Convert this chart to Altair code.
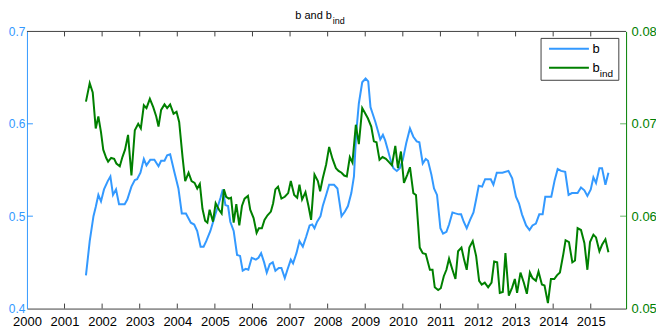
import altair as alt
import pandas as pd

# ---- data ----
b_year = [2001.57, 2001.67, 2001.77, 2001.83, 2001.90, 2001.97, 2002.05, 2002.15, 2002.22, 2002.29,
          2002.37, 2002.45, 2002.60, 2002.67, 2002.78, 2002.87, 2002.93, 2003.02, 2003.11, 2003.18,
          2003.28, 2003.39, 2003.50, 2003.57, 2003.66, 2003.73, 2003.81, 2003.92, 2004.03, 2004.12,
          2004.23, 2004.36, 2004.45, 2004.53, 2004.62, 2004.70, 2004.77, 2004.88, 2005.02, 2005.15,
          2005.21, 2005.28, 2005.35, 2005.41, 2005.50, 2005.59, 2005.67, 2005.74, 2005.82, 2005.89,
          2005.98, 2006.09, 2006.16, 2006.23, 2006.31, 2006.38, 2006.46, 2006.54, 2006.61, 2006.70,
          2006.77, 2006.86, 2006.93, 2007.02, 2007.08, 2007.17, 2007.25, 2007.34, 2007.43, 2007.52,
          2007.59, 2007.65, 2007.72, 2007.81, 2007.87, 2007.96, 2008.04, 2008.17, 2008.26, 2008.37,
          2008.46, 2008.54, 2008.63, 2008.70, 2008.76, 2008.83, 2008.92, 2009.01, 2009.08, 2009.14,
          2009.18, 2009.27, 2009.34, 2009.40, 2009.47, 2009.53, 2009.60, 2009.68, 2009.75, 2009.84,
          2009.92, 2010.00, 2010.09, 2010.19, 2010.28, 2010.37, 2010.44, 2010.53, 2010.61, 2010.67,
          2010.76, 2010.83, 2010.91, 2011.00, 2011.07, 2011.16, 2011.23, 2011.32, 2011.40, 2011.49,
          2011.55, 2011.62, 2011.70, 2011.79, 2011.88, 2011.95, 2012.02, 2012.11, 2012.19, 2012.34,
          2012.41, 2012.50, 2012.65, 2012.81, 2012.91, 2013.01, 2013.09, 2013.17, 2013.28, 2013.37,
          2013.45, 2013.54, 2013.63, 2013.72, 2013.79, 2013.88, 2013.95, 2014.04, 2014.12, 2014.21,
          2014.32, 2014.41, 2014.50, 2014.65, 2014.74, 2014.83, 2014.91, 2015.00, 2015.07, 2015.14,
          2015.23, 2015.30, 2015.39, 2015.47]
b_val = [0.436, 0.473, 0.500, 0.510, 0.523, 0.516, 0.529, 0.538, 0.543, 0.523,
         0.529, 0.513, 0.513, 0.518, 0.532, 0.539, 0.540, 0.547, 0.562, 0.555,
         0.561, 0.561, 0.554, 0.560, 0.560, 0.566, 0.567, 0.548, 0.530, 0.503,
         0.503, 0.493, 0.491, 0.484, 0.467, 0.467, 0.473, 0.484, 0.503, 0.520,
         0.529, 0.512, 0.511, 0.494, 0.484, 0.458, 0.457, 0.441, 0.443, 0.442,
         0.455, 0.453, 0.455, 0.460, 0.450, 0.439, 0.448, 0.450, 0.441, 0.444,
         0.444, 0.433, 0.442, 0.453, 0.449, 0.460, 0.473, 0.467, 0.478, 0.490,
         0.491, 0.487, 0.494, 0.500, 0.511, 0.523, 0.534, 0.534, 0.530, 0.500,
         0.505, 0.511, 0.525, 0.543, 0.590, 0.622, 0.645, 0.649, 0.646, 0.618,
         0.613, 0.602, 0.592, 0.583, 0.588, 0.582, 0.572, 0.560, 0.552, 0.549,
         0.552, 0.561, 0.579, 0.595, 0.586, 0.581, 0.580, 0.557, 0.562, 0.560,
         0.545, 0.530, 0.523, 0.487, 0.481, 0.483, 0.491, 0.504, 0.503, 0.502,
         0.502, 0.494, 0.487, 0.496, 0.504, 0.518, 0.533, 0.532, 0.540, 0.540,
         0.534, 0.547, 0.547, 0.549, 0.541, 0.521, 0.514, 0.502, 0.490, 0.485,
         0.490, 0.492, 0.502, 0.502, 0.521, 0.521, 0.521, 0.539, 0.551, 0.549,
         0.548, 0.523, 0.525, 0.525, 0.531, 0.528, 0.522, 0.529, 0.542, 0.536,
         0.552, 0.552, 0.534, 0.547]

bind_year = [2001.57, 2001.67, 2001.75, 2001.83, 2001.90, 2001.97, 2002.03, 2002.11, 2002.16, 2002.24,
             2002.32, 2002.38, 2002.47, 2002.54, 2002.61, 2002.69, 2002.78, 2002.87, 2002.96, 2003.03,
             2003.11, 2003.18, 2003.27, 2003.36, 2003.44, 2003.50, 2003.57, 2003.66, 2003.73, 2003.81,
             2003.90, 2003.98, 2004.05, 2004.14, 2004.21, 2004.30, 2004.38, 2004.46, 2004.53, 2004.60,
             2004.67, 2004.74, 2004.80, 2004.86, 2004.95, 2005.02, 2005.11, 2005.18, 2005.24, 2005.30,
             2005.37, 2005.43, 2005.50, 2005.57, 2005.65, 2005.72, 2005.79, 2005.88, 2005.94, 2006.03,
             2006.11, 2006.17, 2006.25, 2006.32, 2006.40, 2006.49, 2006.55, 2006.61, 2006.68, 2006.77,
             2006.86, 2006.95, 2007.02, 2007.11, 2007.19, 2007.25, 2007.32, 2007.41, 2007.49, 2007.56,
             2007.65, 2007.74, 2007.80, 2007.87, 2007.96, 2008.04, 2008.13, 2008.22, 2008.29, 2008.37,
             2008.44, 2008.51, 2008.59, 2008.66, 2008.75, 2008.83, 2008.92, 2008.99, 2009.07, 2009.16,
             2009.23, 2009.30, 2009.38, 2009.46, 2009.55, 2009.62, 2009.71, 2009.80, 2009.87, 2009.95,
             2010.03, 2010.12, 2010.19, 2010.28, 2010.35, 2010.41, 2010.45, 2010.53, 2010.61, 2010.72,
             2010.79, 2010.85, 2010.94, 2011.01, 2011.09, 2011.16, 2011.23, 2011.32, 2011.40, 2011.47,
             2011.56, 2011.63, 2011.70, 2011.77, 2011.86, 2011.95, 2012.03, 2012.10, 2012.18, 2012.27,
             2012.36, 2012.43, 2012.51, 2012.58, 2012.66, 2012.73, 2012.82, 2012.91, 2012.98, 2013.04,
             2013.13, 2013.22, 2013.30, 2013.38, 2013.45, 2013.54, 2013.61, 2013.70, 2013.77, 2013.86,
             2013.94, 2014.03, 2014.10, 2014.18, 2014.27, 2014.33, 2014.42, 2014.51, 2014.58, 2014.65,
             2014.74, 2014.83, 2014.91, 2014.98, 2015.07, 2015.14, 2015.23, 2015.30, 2015.39, 2015.47]
bind_val = [0.0724, 0.0744, 0.0734, 0.0695, 0.0708, 0.0691, 0.0672, 0.0663, 0.0659, 0.0663,
            0.0662, 0.0657, 0.0654, 0.0664, 0.0672, 0.0688, 0.0644, 0.0693, 0.0700, 0.0695,
            0.0720, 0.0717, 0.0727, 0.0718, 0.0708, 0.0697, 0.0715, 0.0721, 0.0717, 0.0721,
            0.0711, 0.0713, 0.0702, 0.0664, 0.0638, 0.0647, 0.0638, 0.0636, 0.0630, 0.0635,
            0.0608, 0.0595, 0.0593, 0.0607, 0.0594, 0.0614, 0.0607, 0.0603, 0.0629, 0.0621,
            0.0619, 0.0620, 0.0593, 0.0613, 0.0590, 0.0611, 0.0619, 0.0622, 0.0607, 0.0598,
            0.0582, 0.0587, 0.0587, 0.0596, 0.0601, 0.0605, 0.0614, 0.0629, 0.0632, 0.0619,
            0.0621, 0.0625, 0.0638, 0.0623, 0.0620, 0.0634, 0.0618, 0.0626, 0.0611, 0.0596,
            0.0645, 0.0638, 0.0627, 0.0641, 0.0656, 0.0675, 0.0662, 0.0652, 0.0649, 0.0647,
            0.0644, 0.0643, 0.0664, 0.0658, 0.0699, 0.0678, 0.0717, 0.0712, 0.0706, 0.0697,
            0.0681, 0.0680, 0.0661, 0.0664, 0.0662, 0.0659, 0.0655, 0.0676, 0.0652, 0.0670,
            0.0636, 0.0645, 0.0653, 0.0625, 0.0623, 0.0589, 0.0566, 0.0560, 0.0559, 0.0542,
            0.0542, 0.0523, 0.0520, 0.0522, 0.0535, 0.0542, 0.0554, 0.0542, 0.0532, 0.0562,
            0.0566, 0.0553, 0.0542, 0.0566, 0.0573, 0.0557, 0.0530, 0.0526, 0.0528, 0.0523,
            0.0528, 0.0551, 0.0550, 0.0517, 0.0518, 0.0560, 0.0514, 0.0523, 0.0532, 0.0517,
            0.0539, 0.0528, 0.0516, 0.0539, 0.0533, 0.0530, 0.0540, 0.0526, 0.0525, 0.0506,
            0.0532, 0.0532, 0.0536, 0.0539, 0.0559, 0.0574, 0.0572, 0.0550, 0.0552, 0.0587,
            0.0585, 0.0571, 0.0542, 0.0572, 0.0580, 0.0577, 0.0562, 0.0569, 0.0575, 0.0561]

x_labels = list(range(2000, 2016))
x_ticks = list(range(2001, 2016))
left_labels = [0.4, 0.5, 0.6, 0.7]
left_ticks = [0.5, 0.6]
right_labels = [0.05, 0.06, 0.07, 0.08]
right_ticks = [0.06, 0.07]
title_main, title_sub = "b and b", "ind"
legend_b, legend_bind, legend_sub = "b", "b", "ind"

# ---- style ----
LEFT = 27           # page x of plot's left edge
W, H = 601, 278
BLUE = "#3399ff"
GREEN = "#008000"
DARK = "#404040"
FONT = "Liberation Sans"
TL = 5  # tick length
OX = 22.7 - LEFT    # shift for overlay items placed relative to the original frame

df_b = pd.DataFrame({"year": b_year, "b": b_val})
df_bi = pd.DataFrame({"year": bind_year, "bind": bind_val})
one = pd.DataFrame({"k": [0]})  # single row for decorations

xscale = alt.Scale(domain=[2000, 2015.94], nice=False, zero=False)
x_axis = alt.Axis(values=x_labels, format="d", ticks=False, grid=False, domainColor=DARK,
                  labelFont=FONT, labelFontSize=13, labelColor="black", labelPadding=7,
                  labelFlush=False, labelOverlap=False, title=None)
yl_scale = alt.Scale(domain=[0.4, 0.7], nice=False, zero=False)
yl_axis = alt.Axis(values=left_labels, format=".1f", ticks=False, grid=False, domainColor=BLUE,
                   labelFont=FONT, labelFontSize=12, labelColor=BLUE, labelPadding=2,
                   labelFlush=False, labelOverlap=False, title=None, orient="left")
yr_scale = alt.Scale(domain=[0.05, 0.08], nice=False, zero=False)
yr_axis = alt.Axis(values=right_labels, format=".2f", ticks=False, grid=False, domainColor=GREEN,
                   labelFont=FONT, labelFontSize=13, labelColor=GREEN, labelPadding=5,
                   labelFlush=False, labelOverlap=False, title=None, orient="right")

X = alt.X("year:Q", scale=xscale, axis=x_axis)

blue_line = alt.Chart(df_b).mark_line(color=BLUE, strokeWidth=2).encode(
    x=X, y=alt.Y("b:Q", scale=yl_scale, axis=yl_axis))
left_tick_rules = alt.Chart(pd.DataFrame({"b": left_ticks})).mark_rule(color=BLUE, strokeWidth=1).encode(
    y=alt.Y("b:Q", scale=yl_scale, axis=yl_axis), x=alt.value(0), x2=alt.value(TL + 1))
blue_group = alt.layer(blue_line, left_tick_rules)

green_line = alt.Chart(df_bi).mark_line(color=GREEN, strokeWidth=2).encode(
    x=X, y=alt.Y("bind:Q", scale=yr_scale, axis=yr_axis))
right_tick_rules = alt.Chart(pd.DataFrame({"bind": right_ticks})).mark_rule(color="#66b366", strokeWidth=1).encode(
    y=alt.Y("bind:Q", scale=yr_scale, axis=yr_axis), x=alt.value(W - TL - 1), x2=alt.value(W))
green_group = alt.layer(green_line, right_tick_rules)

df_xt = pd.DataFrame({"year": x_ticks})
top_ticks = alt.Chart(df_xt).mark_rule(color=DARK).encode(x=X, y=alt.value(0), y2=alt.value(TL))
bottom_ticks = alt.Chart(df_xt).mark_rule(color=DARK).encode(x=X, y=alt.value(H - TL), y2=alt.value(H))
top_border = alt.Chart(one).mark_rule(color=DARK).encode(x=alt.value(0), x2=alt.value(W), y=alt.value(0))

# legend
leg_box = alt.Chart(one).mark_rect(fill="white", stroke=DARK, strokeWidth=1).encode(
    x=alt.value(520 + OX), x2=alt.value(598 + OX), y=alt.value(7), y2=alt.value(49))
leg_l1 = alt.Chart(one).mark_rule(color=BLUE, strokeWidth=2).encode(
    x=alt.value(528 + OX), x2=alt.value(568 + OX), y=alt.value(17.5))
leg_l2 = alt.Chart(one).mark_rule(color=GREEN, strokeWidth=2).encode(
    x=alt.value(528 + OX), x2=alt.value(568 + OX), y=alt.value(36.5))
leg_t1 = alt.Chart(one).mark_text(text=legend_b, font=FONT, fontSize=13, fontWeight="normal",
                                  align="left", baseline="alphabetic", color="black").encode(
    x=alt.value(571.5 + OX), y=alt.value(22))
leg_t2 = alt.Chart(one).mark_text(text=legend_bind, font=FONT, fontSize=13, fontWeight="normal",
                                  align="left", baseline="alphabetic", color="black").encode(
    x=alt.value(571.5 + OX), y=alt.value(41))
leg_t3 = alt.Chart(one).mark_text(text=legend_sub, font=FONT, fontSize=10, fontWeight="normal",
                                  align="left", baseline="alphabetic", color="black").encode(
    x=alt.value(579 + OX), y=alt.value(46))

# title
tit1 = alt.Chart(one).mark_text(text=title_main, font=FONT, fontSize=11, fontWeight="normal",
                                align="left", baseline="alphabetic", color="black").encode(
    x=alt.value(273.5 + OX), y=alt.value(-12))
tit2 = alt.Chart(one).mark_text(text=title_sub, font=FONT, fontSize=9, fontWeight="normal",
                                align="left", baseline="alphabetic", color="black").encode(
    x=alt.value(311 + OX), y=alt.value(-7))

chart = alt.layer(
    blue_group, green_group, top_ticks, bottom_ticks, top_border,
    leg_box, leg_l1, leg_l2, leg_t1, leg_t2, leg_t3, tit1, tit2
).resolve_scale(y="independent").properties(
    width=W, height=H,
    autosize=alt.AutoSizeParams(type="none"),
    padding={"left": LEFT - 8, "top": 23, "right": 30, "bottom": 20},
).configure_view(stroke=None)

chart.save("out.html", embed_options={"renderer": "svg", "actions": False})
